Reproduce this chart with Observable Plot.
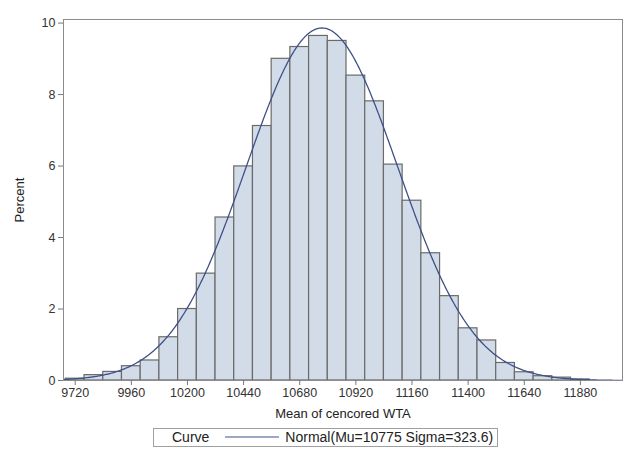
<!DOCTYPE html>
<html><head><meta charset="utf-8">
<script src="https://cdn.jsdelivr.net/npm/d3@7"></script>
<script src="https://cdn.jsdelivr.net/npm/@observablehq/plot@0.6"></script>
<style>
body{margin:0;background:#fff;font-family:"Liberation Sans",Arial,sans-serif;}
#wrap{position:relative;width:629px;height:454px;}
#legend{position:absolute;top:428px;left:153px;border:1px solid #a0a0a0;padding:0px 4px 1px 18px;font-size:14px;color:#222;white-space:nowrap;display:flex;align-items:center;gap:5px;}
#legend svg{margin-left:10px;}
</style>
</head><body>
<div id="wrap"><div id="chart"></div>
<div id="legend"><span>Curve</span><svg width="56" height="10"><line x1="1" y1="5" x2="55" y2="5" stroke="#3f5088" stroke-width="1.2"/></svg><span>Normal(Mu=10775 Sigma=323.6)</span></div>
</div>
<script>
const binMid = [9720,9800,9880,9960,10040,10120,10200,10280,10360,10440,10520,10600,10680,10760,10840,10920,11000,11080,11160,11240,11320,11400,11480,11560,11640,11720,11800,11880];
const percent = [0.05,0.15,0.24,0.40,0.56,1.21,2.00,2.99,4.56,5.99,7.12,9.00,9.33,9.64,9.50,8.53,7.81,6.04,5.03,3.56,2.36,1.46,1.12,0.49,0.23,0.12,0.08,0.03];
const binWidth = 80;
const mu = 10775, sigma = 323.6;
const xTicks = [9720,9960,10200,10440,10680,10920,11160,11400,11640,11880];
const yTicks = [0,2,4,6,8,10];

const bins = binMid.map((m,i)=>({x1:m-binWidth/2, x2:m+binWidth/2, pct:percent[i]}));
const curve = d3.range(9672, 12060, 4).map(x=>({x, y:100*binWidth*Math.exp(-0.5*((x-mu)/sigma)**2)/(sigma*Math.sqrt(2*Math.PI))}));

const chart = Plot.plot({
  width:629, height:428,
  marginLeft:63, marginRight:7, marginTop:19, marginBottom:48,
  style:{fontFamily:"Liberation Sans, Arial, sans-serif", fontSize:"12.5px", color:"#333", background:"#fff"},
  x:{domain:[9670,12060]},
  y:{domain:[0,10.1]},
  marks:[
    Plot.rectY(bins,{x1:"x1",x2:"x2",y:"pct",fill:"#d2dce9",stroke:"#6a6a6a",strokeWidth:1.2}),
    Plot.line(curve,{x:"x",y:"y",stroke:"#3f5088",strokeWidth:1.3}),
    Plot.frame({stroke:"#8c8c8c"}),
    Plot.axisX({ticks:xTicks, tickSize:5, tickPadding:3, tickFormat:d=>String(d), stroke:"#777", fill:"#333"}),
    Plot.axisX({ticks:[], label:"Mean of cencored WTA", labelAnchor:"center", labelArrow:"none", labelOffset:37, fontSize:13, fill:"#222"}),
    Plot.axisY({ticks:yTicks, tickSize:5, tickPadding:3, stroke:"#777", fill:"#333"}),
    Plot.axisY({ticks:[], label:"Percent", labelAnchor:"center", labelArrow:"none", labelOffset:49, fontSize:13, fill:"#222"})
  ]
});
document.getElementById("chart").appendChild(chart);
</script>
</body></html>
